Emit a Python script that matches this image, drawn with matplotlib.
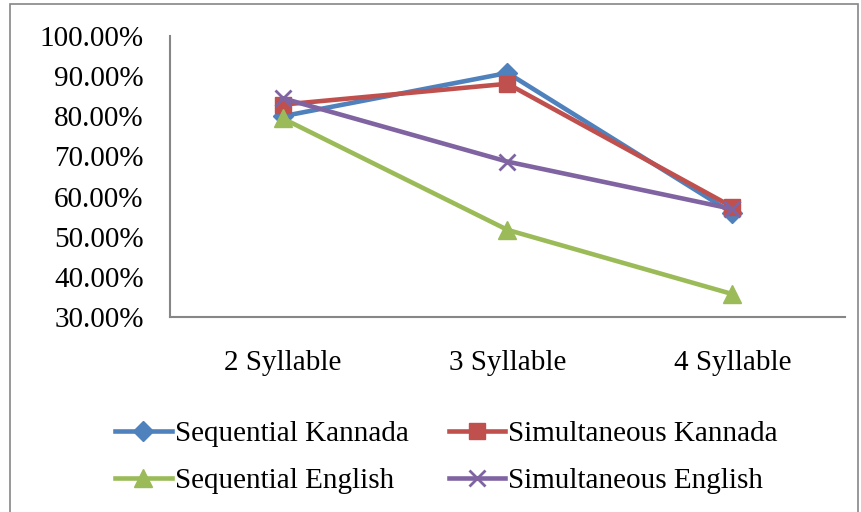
import matplotlib
matplotlib.use("Agg")
import matplotlib.pyplot as plt
from matplotlib.ticker import FuncFormatter, MultipleLocator
from matplotlib.patches import Rectangle

categories = ["2 Syllable", "3 Syllable", "4 Syllable"]
seq_kannada = [80.0, 90.8, 55.9]
sim_kannada = [82.9, 88.1, 57.4]
seq_english = [79.5, 51.7, 35.7]
sim_english = [84.5, 68.7, 56.9]

plt.rcParams['font.family'] = ['Liberation Serif', 'DejaVu Serif']

fig = plt.figure(figsize=(8.61, 5.12), dpi=100)
ax = fig.add_axes([170/861, 1-317/512, 675/861, (317-36)/512])

x = list(range(len(categories)))
lw = 3.3
l1, = ax.plot(x, seq_kannada, color="#4F81BD", lw=lw, marker="D", ms=10, label="Sequential Kannada")
l2, = ax.plot(x, sim_kannada, color="#C0504D", lw=lw, marker="s", ms=12, label="Simultaneous Kannada")
l3, = ax.plot(x, seq_english, color="#9BBB59", lw=lw, marker="^", ms=13, label="Sequential English")
l4, = ax.plot(x, sim_english, color="#8064A2", lw=lw, marker="x", ms=11, mew=2, label="Simultaneous English")

ax.set_xlim(-0.5, 2.5)
ax.set_ylim(30, 100)
ax.yaxis.set_major_locator(MultipleLocator(10))
ax.yaxis.set_major_formatter(FuncFormatter(lambda v, p: f"{v:.2f}%"))
ax.set_xticks(x)
ax.set_xticklabels(categories)
ax.tick_params(axis='both', length=0, labelsize=21, colors="black")
ax.tick_params(axis='x', pad=24)
ax.tick_params(axis='y', pad=19)
for s in ["top", "right"]:
    ax.spines[s].set_visible(False)
for s in ["left", "bottom"]:
    ax.spines[s].set_color("#868686")
    ax.spines[s].set_linewidth(1.5)

fig.legend(handles=[l1, l3, l2, l4], ncol=2, loc="center",
           bbox_to_anchor=(0.5186, 1-457.5/512), frameon=False, fontsize=21,
           handlelength=1.95, handletextpad=0.1, columnspacing=1.37,
           labelspacing=0.72, borderpad=0)

fig.patches.append(Rectangle((10/861, -0.1), 848/861, 1.1 - 4/512, transform=fig.transFigure,
                             fill=False, edgecolor="#868686", lw=1.2))

fig.savefig("out.png", dpi=100)
